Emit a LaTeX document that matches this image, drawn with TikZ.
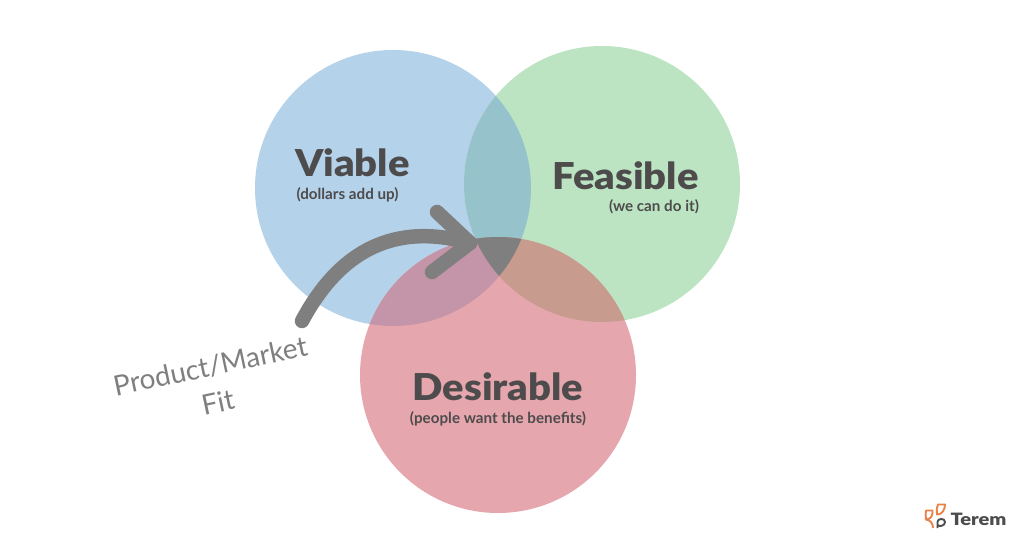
\documentclass[tikz,border=0pt]{standalone}
\usepackage{fontspec}
\setmainfont{Lato}
\newfontfamily\headfont[FakeStretch=1.08]{Lato Black}
\newfontfamily\logofont[FakeStretch=1.18]{Lato Black}
\usepackage{xcolor}
\definecolor{viablecol}{HTML}{B4D2E9}
\definecolor{feasiblecol}{HTML}{BCE4C3}
\definecolor{desirablecol}{HTML}{E5A6AE}
\definecolor{vfcol}{HTML}{96C3CB}
\definecolor{vdcol}{HTML}{C495A8}
\definecolor{fdcol}{HTML}{C79C8E}
\definecolor{greycol}{HTML}{7F7F7F}
\definecolor{textcol}{HTML}{4D4B4B}
\definecolor{logocol}{HTML}{E8834A}
\tikzset{
  venn/.style={circle,minimum size=276pt,inner sep=0pt},
  title/.style={text=textcol,font=\headfont\fontsize{37}{37}\selectfont,inner sep=0pt},
  subtitle/.style={text=textcol,font=\bfseries\fontsize{15.2}{16}\selectfont,inner sep=0pt},
  leaf/.style={draw=logocol,line width=1.9pt,line join=round}
}
\begin{document}
\begin{tikzpicture}[x=1pt,y=-1pt]
            \useasboundingbox (0,0) rectangle (1024,537);
            \node (viable) at (393,188) [venn,fill=viablecol] {};
            \node (feasible) at (602,184) [venn,fill=feasiblecol] {};
            \node (desirable) at (498,375) [venn,fill=desirablecol] {};

            % overlaps
            \begin{scope}
                \clip (393,188) circle (138);
                \fill[vfcol] (602,184) circle (138);
            \end{scope}
            \begin{scope}
                \clip (393,188) circle (138);
                \fill[vdcol] (498,375) circle (138);
            \end{scope}
            \begin{scope}
                \clip (602,184) circle (138);
                \fill[fdcol] (498,375) circle (138);
            \end{scope}
            \begin{scope}
                \clip (393,188) circle (138);
                \clip (602,184) circle (138);
                \fill[greycol] (498,375) circle (138);
            \end{scope}

            \node (viabletitle) at (352.5,163) [title] {Viable};
            \node (viablesub) at (347.5,195) [subtitle] {(dollars add up)};
            \node (feasibletitle) at (625.5,176) [title] {Feasible};
            \node (feasiblesub) at (654,207) [subtitle] {(we can do it)};
            \node (desirabletitle) at (498,387) [title] {Desirable};
            \node (desirablesub) at (498,419) [subtitle] {(people want the benefits)};

            % arrow
            \coordinate (start) at (302,321);
            \coordinate (tip) at (470,243);
            \coordinate (upper) at (437,212);
            \coordinate (lower) at (432,272);
            \draw[greycol,line width=14.5pt,line cap=round] (start) .. controls (340,250) and (395,222) .. (tip);
            \draw[greycol,line width=14.5pt,line cap=round,line join=round] (upper) -- (tip) -- (lower);

            \node (fit) at (214,384) [rotate=12,text=greycol,align=center,inner sep=0pt,
                font=\fontsize{28}{37}\selectfont] {Product/Market\\Fit};

            % logo
            \draw[leaf] (926,510.5) -- (932.5,510.5) .. controls (933,515) and (931,519.5) .. (926,519.5) .. controls (925.5,516) and (925.5,513) .. (926,510.5) -- cycle;
            \draw[leaf] (945,504.5) -- (938,504.5) .. controls (936.5,508) and (936.5,511) .. (937,514.5) .. controls (942,514.5) and (945,510) .. (945,504.5) -- cycle;
            \draw[logocol,line width=1.9pt] (926,519.5) .. controls (930,520) and (933,523) .. (933,528);
            \draw[textcol,line width=1.9pt] (937.5,528) -- (937.5,522) .. controls (937.5,518) and (945,518) .. (945,522) .. controls (945,526) and (939,527) .. (937.5,525);
            \node (terem) at (978.5,519) [text=textcol,inner sep=0pt,font=\logofont\fontsize{17}{17}\selectfont] {Terem};
        \end{tikzpicture}
\end{document}
